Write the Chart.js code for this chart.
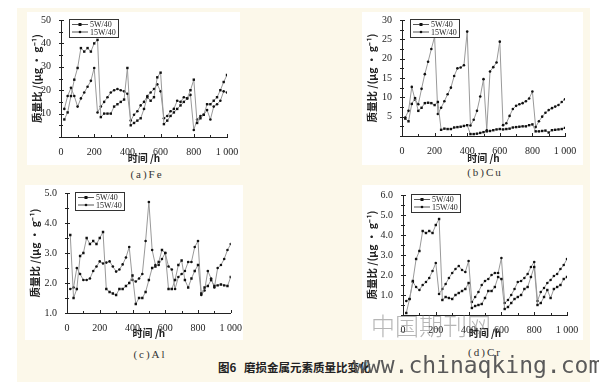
<!DOCTYPE html>
<html>
<head>
<meta charset="utf-8">
<script src="https://cdn.jsdelivr.net/npm/chart.js@4.4.1/dist/chart.umd.min.js"></script>
<style>
  body { margin: 0; width: 599px; height: 382px; background: #fff; position: relative; overflow: hidden; }
  #paper { position: absolute; left: 17px; top: 8px; width: 573px; height: 374px; background: #fcf8ea; }
  .box { position: absolute; background: #fff; }
  .box canvas { display: block; }
  .cap { position: absolute; font: 11px "Liberation Serif", serif; color: #333; letter-spacing: 2px; transform: translateX(-50%); white-space: nowrap; }
  #figcap { position: absolute; left: 218px; top: 359px; font: bold 11.5px "Noto Sans CJK SC", sans-serif; color: #222; white-space: nowrap; }
  #wm1 { position: absolute; left: 353px; top: 352px; font: 23px "DejaVu Sans Mono", monospace; color: #5a5a5a; white-space: nowrap; }
  #wm2 { position: absolute; left: 371px; top: 307px; font: 200 24px "Noto Sans CJK SC", sans-serif; color: rgba(110,110,110,0.5); white-space: nowrap; }
</style>
</head>
<body>
<div id="paper"></div>
<div class="box" style="left:27px;top:12px;"><canvas id="fe" width="213" height="153"></canvas></div>
<div class="box" style="left:362px;top:12px;"><canvas id="cu" width="221" height="153"></canvas></div>
<div class="box" style="left:25px;top:185px;"><canvas id="al" width="218" height="155"></canvas></div>
<div class="box" style="left:362px;top:185px;"><canvas id="cr" width="221" height="155"></canvas></div>
<div class="cap" style="left:147px;top:168px;">(a)Fe</div>
<div class="cap" style="left:485px;top:166px;">(b)Cu</div>
<div class="cap" style="left:150px;top:348px;">(c)Al</div>
<div class="cap" style="left:485px;top:346px;">(d)Cr</div>
<div id="figcap">图6&nbsp;&nbsp;&nbsp;磨损金属元素质量比变化</div>
<div id="wm2">中国期刊网</div>
<div id="wm1">www.chinaqking.com</div>
<script>
// sampling hours (x axis)
const hours = [20, 40, 60, 80, 100, 120, 140, 160, 180, 200,
  220, 240, 260, 280, 300, 320, 340, 360, 380, 400,
  420, 440, 460, 480, 500, 520, 540, 560, 580, 600,
  620, 640, 660, 680, 700, 720, 740, 760, 780, 800,
  820, 840, 860, 880, 900, 920, 940, 960, 980, 1000];
const seriesNames = ["5W/40", "15W/40"];

// (a) Fe
const fe5w = [7.5, 10.5, 17.5, 24.5, 29.5, 38, 36.5, 38, 36.5, 40,
  41.5, 8.5, 10, 10, 10, 13, 14, 15, 16, 29.5,
  5, 6, 7, 8, 12, 17, 15.5, 17, 25.5, 27.5,
  5.5, 7, 9, 10.5, 12, 13.5, 15, 16.5, 20, 24.5,
  6, 8, 9.5, 14, 14, 15.5, 17, 20, 23.5, 26.5];
const fe15w = [12, 17.5, 21, 17.5, 13, 16.5, 19, 21.5, 24, 29.5,
  10.5, 13, 15, 17, 19, 20, 20.5, 20, 19.5, 18.5,
  7, 9.5, 11, 13.5, 15, 17.5, 19, 20.5, 22.5, 19.5,
  8, 9, 11, 12, 15.5, 15, 17, 16.5, 18, 3,
  7.5, 9, 9.5, 11.5, 7.5, 13, 14, 15.5, 19.5, 19];

// (b) Cu
const cu5w = [4.5, 3.8, 8.3, 9.8, 6.5, 7.3, 8.5, 8.6, 8.5, 8,
  8.8, 1.6, 1.9, 1.8, 1.8, 2.2, 2.3, 2.4, 2.6, 2.8,
  0.5, 0.5, 0.6, 0.8, 1, 1.2, 1.3, 1.5, 1.7, 1.8,
  1.7, 1.8, 1.9, 2.2, 2.3, 2.4, 2.5, 2.5, 2.8, 3,
  1.2, 1.2, 1.3, 1.4, 0.9, 1.5, 1.6, 1.7, 1.8, 2.1];
const cu15w = [4.8, 6.5, 12.7, 9.4, 8.2, 12.2, 16, 19.2, 22.5, 25.7,
  5.7, 7.3, 9, 10.8, 12.5, 15.5, 17.5, 17.7, 18.3, 27,
  2.7, 4.2, 6.5, 10.2, 14.7, 1.5, 16.7, 17.8, 19, 24.4,
  2.8, 3.3, 5.2, 7, 7.8, 8.2, 8.5, 9, 9.7, 11.5,
  2.3, 3.8, 5, 6, 6.7, 7.2, 7.6, 8, 8.8, 9.5];

// (c) Al
const al5w = [3.6, 1.5, 1.8, 2.9, 3.0, 3.5, 3.3, 3.4, 3.3, 3.5,
  3.7, 1.8, 1.7, 1.65, 1.6, 1.8, 1.8, 1.9, 2.0, 2.25,
  1.3, 1.5, 1.5, 1.7, 2.1, 2.5, 2.55, 2.7, 3.1, 3.0,
  1.8, 1.8, 2.1, 2.6, 2.75, 2.1, 1.85, 2.15, 2.4, 2.6,
  1.65, 1.85, 1.9, 2.1, 1.9, 1.92, 1.95, 1.92, 1.9, 2.2];
const al15w = [1.8, 1.85, 2.5, 2.3, 2.1, 2.1, 2.15, 2.4, 2.55, 2.72,
  2.65, 2.68, 2.72, 2.55, 2.38, 2.45, 2.62, 2.85, 3.2, 2.1,
  2.05, 2.15, 2.3, 3.4, 4.7, 3.1, 2.6, 2.6, 2.8, 3.0,
  2.55, 2.45, 1.8, 2.2, 2.3, 2.4, 2.7, 2.7, 3.2, 3.4,
  1.6, 1.75, 2.4, 2.15, 1.85, 2.5, 2.6, 2.8, 3.1, 3.3];

// (d) Cr
const cr5w = [0.1, 0.8, 1.7, 2.8, 3.2, 4.2, 4.1, 4.2, 4.1, 4.5,
  4.8, 0.75, 0.9, 0.85, 0.8, 1.0, 1.1, 1.2, 1.3, 1.6,
  0.35, 0.45, 0.5, 0.55, 0.85, 1.2, 1.2, 1.4, 1.9, 1.8,
  0.3, 0.4, 0.6, 0.8, 0.9, 1.0, 1.3, 1.4, 1.9, 2.4,
  0.5, 0.6, 0.9, 1.25, 0.85, 1.3, 1.4, 1.5, 1.8, 1.9];
const cr15w = [0.7, 0.8, 1.65, 1.4, 1.25, 1.5, 1.65, 1.85, 2.2, 2.6,
  1.05, 1.3, 1.55, 1.85, 2.1, 2.3, 2.45, 2.25, 2.15, 2.7,
  0.65, 0.9, 1.15, 1.5, 1.7, 1.8, 2.0, 2.1, 2.1, 2.85,
  0.6, 0.75, 1.0, 1.3, 1.65, 1.7, 1.85, 2.05, 2.4, 2.65,
  0.7, 1.15, 1.35, 1.6, 1.75, 1.95, 2.05, 2.3, 2.5, 2.8];

const serif = '"Liberation Serif", "DejaVu Serif", serif';
const cjk = '"Noto Sans CJK SC", sans-serif';
const ink = "#222";

const styles = [
  { pointStyle: "rect", pointRadius: 1.7 },
  { pointStyle: "circle", pointRadius: 1.3 }
];

// little inward tick marks like the original plots
const innerTicks = {
  id: "innerTicks",
  afterDatasetsDraw(chart) {
    const { ctx, chartArea: a, scales } = chart;
    ctx.save();
    ctx.strokeStyle = ink;
    ctx.lineWidth = 1;
    scales.x.ticks.forEach(t => {
      const px = Math.round(scales.x.getPixelForValue(t.value)) + 0.5;
      ctx.beginPath();
      ctx.moveTo(px, a.bottom);
      ctx.lineTo(px, a.bottom - (t.label ? 3 : 2));
      ctx.stroke();
    });
    scales.y.ticks.forEach(t => {
      const py = Math.round(scales.y.getPixelForValue(t.value)) + 0.5;
      ctx.beginPath();
      ctx.moveTo(a.left - 2, py);
      ctx.lineTo(a.left + (t.label ? 3 : 2), py);
      ctx.stroke();
    });
    ctx.restore();
  }
};

// framed legend in the top-left corner
const boxLegend = {
  id: "boxLegend",
  afterDraw(chart) {
    const { ctx, chartArea: a } = chart;
    const x = Math.round(a.left + 8), y = Math.round(a.top - 1), w = 49, h = 18;
    ctx.save();
    ctx.fillStyle = "#fff";
    ctx.fillRect(x, y, w, h);
    ctx.strokeStyle = "#333";
    ctx.lineWidth = 1;
    ctx.strokeRect(x + 0.5, y + 0.5, w, h);
    chart.data.datasets.forEach((ds, i) => {
      const ly = y + 5.5 + i * 7.5;
      ctx.strokeStyle = "#555";
      ctx.beginPath();
      ctx.moveTo(x + 3, ly);
      ctx.lineTo(x + 19, ly);
      ctx.stroke();
      ctx.fillStyle = "#111";
      if (ds.pointStyle === "rect") ctx.fillRect(x + 9.5, ly - 1.5, 3, 3);
      else { ctx.beginPath(); ctx.arc(x + 11, ly, 1.3, 0, Math.PI * 2); ctx.fill(); }
      ctx.fillStyle = ink;
      ctx.font = "8px " + serif;
      ctx.textBaseline = "middle";
      ctx.fillText(ds.label, x + 21, ly + 0.5);
    });
    ctx.restore();
  }
};

function drawPanel(id, a, b, y, geo) {
  const vals = [a, b];
  new Chart(document.getElementById(id), {
    type: "line",
    data: {
      datasets: vals.map((v, i) => ({
        label: seriesNames[i],
        data: hours.map((h, k) => ({ x: h, y: v[k] })),
        borderColor: "#999",
        borderWidth: 1,
        pointBackgroundColor: "#111",
        pointBorderColor: "#111",
        pointBorderWidth: 0,
        pointStyle: styles[i].pointStyle,
        pointRadius: styles[i].pointRadius,
        tension: 0
      }))
    },
    options: {
      responsive: false,
      animation: false,
      layout: { padding: { top: geo.top, right: geo.right, left: 0, bottom: 0 } },
      plugins: { legend: { display: false }, tooltip: { enabled: false } },
      scales: {
        x: {
          type: "linear", min: 0, max: 1000,
          grid: { display: false },
          border: { display: true, color: ink, width: 1 },
          ticks: {
            stepSize: 100, autoSkip: false, maxRotation: 0, padding: 1,
            color: ink, font: { family: serif, size: 10 },
            callback: v => (v % 200 ? "" : v === 1000 ? "1 000" : String(v))
          },
          title: { display: true, text: "时间 /h", color: ink, padding: { top: geo.xtp, bottom: geo.xtp },
            font: { family: cjk, size: 10, weight: "bold" } },
          afterFit(s) { s.height = geo.xh; }
        },
        y: {
          min: y.min, max: y.max,
          grid: { display: false },
          border: { display: true, color: ink, width: 1 },
          ticks: {
            stepSize: y.step, autoSkip: false, padding: 2,
            color: ink, font: { family: serif, size: 10 },
            callback: y.label
          },
          title: { display: true, text: "质量比 /(μg · g⁻¹)", color: ink, padding: { top: 4, bottom: 4 },
            font: { family: cjk, size: 10.5, weight: "bold" } },
          afterFit(s) { s.width = geo.yw; }
        }
      }
    },
    plugins: [innerTicks, boxLegend]
  });
}

drawPanel("fe", fe5w, fe15w,
  { min: 0, max: 50, step: 5, label: v => (v > 0 && v % 10 === 0 ? String(v) : "") },
  { top: 3, right: 13, yw: 34, xh: 28, xtp: 1 });
drawPanel("cu", cu5w, cu15w,
  { min: 0, max: 30, step: 2.5, label: v => (v > 0 && v % 5 === 0 ? String(v) : "") },
  { top: 4, right: 18, yw: 40, xh: 29, xtp: 1 });
drawPanel("al", al5w, al15w,
  { min: 1, max: 5, step: 0.5, label: v => (v % 1 === 0 ? v.toFixed(1) : "") },
  { top: 8, right: 10, yw: 42, xh: 27, xtp: 1 });
drawPanel("cr", cr5w, cr15w,
  { min: 0, max: 6, step: 0.5, label: v => (v >= 1 && v % 1 === 0 ? v.toFixed(1) : "") },
  { top: 10, right: 16, yw: 41, xh: 25, xtp: 1 });
</script>
</body>
</html>
